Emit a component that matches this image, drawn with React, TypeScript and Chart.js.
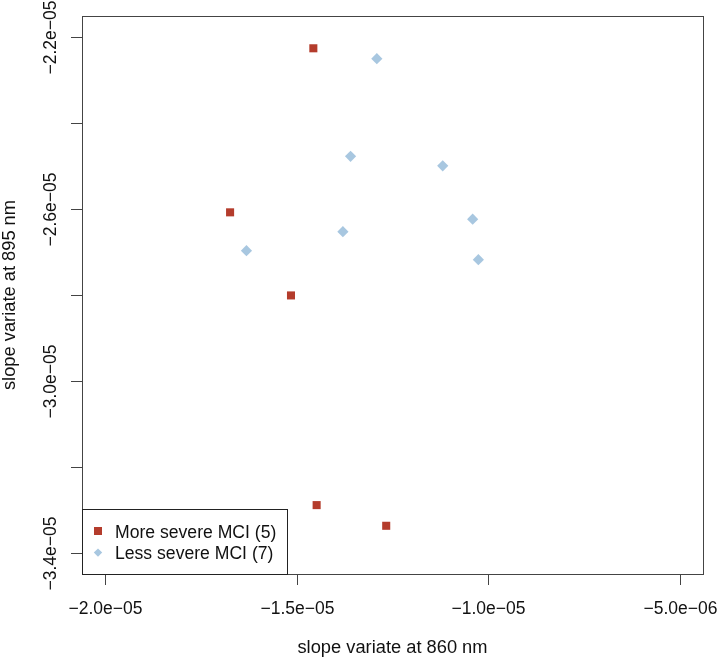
import { useEffect, useRef } from "react";
import Chart from "chart.js/auto";

// values
const moreSevereX = [-1.4565e-5, -1.6737e-5, -1.5148e-5, -1.4479e-5, -1.2664e-5];
const moreSevereY = [-2.227e-5, -2.608e-5, -2.801e-5, -3.288e-5, -3.336e-5];
const lessSevereX = [-1.2909e-5, -1.3594e-5, -1.119e-5, -1.0409e-5, -1.3794e-5, -1.631e-5, -1.026e-5];
const lessSevereY = [-2.251e-5, -2.478e-5, -2.5e-5, -2.624e-5, -2.653e-5, -2.697e-5, -2.718e-5];

const seriesLabels = ["More severe MCI (5)", "Less severe MCI (7)"];
const seriesColors = ["#B43C2C", "#A8C7E0"];

const xTicks = [-2.0e-5, -1.5e-5, -1.0e-5, -5.0e-6];
const xTickLabels = ["\u22122.0e\u221205", "\u22121.5e\u221205", "\u22121.0e\u221205", "\u22125.0e\u221206"];
const yTicks = [-2.2e-5, -2.4e-5, -2.6e-5, -2.8e-5, -3.0e-5, -3.2e-5, -3.4e-5];
const yTickLabels = ["\u22122.2e\u221205", "", "\u22122.6e\u221205", "", "\u22123.0e\u221205", "", "\u22123.4e\u221205"];

const xTitle = "slope variate at 860 nm";
const yTitle = "slope variate at 895 nm";

// R style: xlim/ylim extended by 4%
const xLim = [-2.0e-5, -5.0e-6];
const yLim = [-3.4e-5, -2.2e-5];
const pad = (lim: number[]) => {
  const d = (lim[1] - lim[0]) * 0.04;
  return [lim[0] - d, lim[1] + d];
};

const FONT = "'Liberation Sans', Arial, Helvetica, sans-serif";

const basePlotPlugin = {
  id: "basePlot",
  afterDraw(chart: any) {
    const ctx = chart.ctx as CanvasRenderingContext2D;
    const { left, right, top, bottom } = chart.chartArea;
    const xs = chart.scales.x;
    const ys = chart.scales.y;
    ctx.save();
    ctx.strokeStyle = "#444";
    ctx.fillStyle = "#111";
    ctx.lineWidth = 1;

    // box
    ctx.strokeRect(left + 0.5, top + 0.5, right - left, bottom - top);

    // x axis
    ctx.font = `17.5px ${FONT}`;
    ctx.textAlign = "center";
    ctx.textBaseline = "alphabetic";
    xTicks.forEach((v, i) => {
      const px = Math.round(xs.getPixelForValue(v)) + 0.5;
      ctx.beginPath();
      ctx.moveTo(px, bottom);
      ctx.lineTo(px, bottom + 11);
      ctx.stroke();
      ctx.fillText(xTickLabels[i], px, bottom + 40);
    });
    ctx.font = `18.3px ${FONT}`;
    ctx.fillText(xTitle, (left + right) / 2, bottom + 79);

    // y axis
    ctx.font = `17.5px ${FONT}`;
    yTicks.forEach((v, i) => {
      const py = Math.round(ys.getPixelForValue(v)) + 0.5;
      ctx.beginPath();
      ctx.moveTo(left, py);
      ctx.lineTo(left - 11, py);
      ctx.stroke();
      if (yTickLabels[i]) {
        ctx.save();
        ctx.translate(left - 26, py);
        ctx.rotate(-Math.PI / 2);
        ctx.fillText(yTickLabels[i], 0, 0);
        ctx.restore();
      }
    });
    ctx.font = `18.3px ${FONT}`;
    ctx.save();
    ctx.translate(15, (top + bottom) / 2);
    ctx.rotate(-Math.PI / 2);
    ctx.fillText(yTitle, 0, 0);
    ctx.restore();

    // legend (bottomleft)
    const lw = 205;
    const lh = 65;
    ctx.fillStyle = "#fff";
    ctx.fillRect(left, bottom - lh, lw, lh);
    ctx.strokeStyle = "#222";
    ctx.strokeRect(left + 0.5, bottom - lh + 0.5, lw, lh);
    ctx.font = `17.6px ${FONT}`;
    ctx.textAlign = "left";
    seriesLabels.forEach((label, i) => {
      const cy = bottom - lh + 22 + i * 21.6;
      ctx.fillStyle = seriesColors[i];
      ctx.beginPath();
      if (i === 0) {
        ctx.rect(left + 12, cy - 4, 8, 8);
      } else {
        ctx.moveTo(left + 16, cy - 4.2);
        ctx.lineTo(left + 20.2, cy);
        ctx.lineTo(left + 16, cy + 4.2);
        ctx.lineTo(left + 11.8, cy);
        ctx.closePath();
      }
      ctx.fill();
      ctx.fillStyle = "#111";
      ctx.fillText(label, left + 33, cy + 6.5);
    });
    ctx.restore();
  },
};

export default function App() {
  const chartRef = useRef<HTMLCanvasElement>(null);
  const chartInstanceRef = useRef<Chart | null>(null);

  useEffect(() => {
    if (!chartRef.current) return;
    if (chartInstanceRef.current) {
      chartInstanceRef.current.destroy();
    }

    const xRange = pad(xLim);
    const yRange = pad(yLim);

    chartInstanceRef.current = new Chart(chartRef.current, {
      type: "scatter",
      data: {
        datasets: [
          {
            label: seriesLabels[0],
            data: moreSevereX.map((x, i) => ({ x, y: moreSevereY[i] })),
            pointStyle: "rect",
            pointRadius: 5.7,
            backgroundColor: seriesColors[0],
            borderColor: seriesColors[0],
            borderWidth: 0,
          },
          {
            label: seriesLabels[1],
            data: lessSevereX.map((x, i) => ({ x, y: lessSevereY[i] })),
            pointStyle: "rectRot",
            pointRadius: 5.6,
            backgroundColor: seriesColors[1],
            borderColor: seriesColors[1],
            borderWidth: 0,
          },
        ],
      },
      options: {
        responsive: false,
        animation: false,
        layout: { padding: { left: 82, top: 16, right: 15, bottom: 86 } },
        plugins: {
          legend: { display: false },
          tooltip: { enabled: false },
        },
        scales: {
          x: { type: "linear", min: xRange[0], max: xRange[1], display: false },
          y: { type: "linear", min: yRange[0], max: yRange[1], display: false },
        },
      },
      plugins: [basePlotPlugin],
    });

    return () => {
      if (chartInstanceRef.current) {
        chartInstanceRef.current.destroy();
        chartInstanceRef.current = null;
      }
    };
  }, []);

  return (
    <div style={{ position: "fixed", left: 0, top: 0, width: 718, height: 660, background: "#fff" }}>
      <canvas ref={chartRef} width={718} height={660} />
    </div>
  );
}
